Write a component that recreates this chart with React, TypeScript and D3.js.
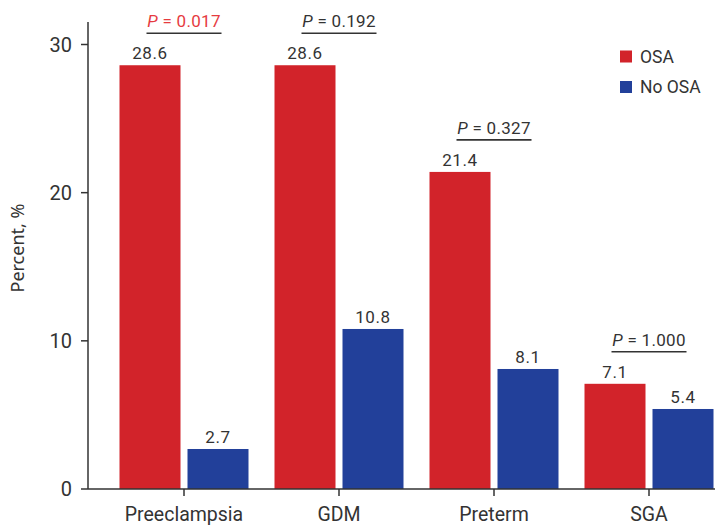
import React from "react";
import * as d3 from "d3";

// Outcome categories and percentages per group
const categories = ["Preeclampsia", "GDM", "Preterm", "SGA"];
const groups = ["OSA", "No OSA"];
const osaValues = [28.6, 28.6, 21.4, 7.1];
const noOsaValues = [2.7, 10.8, 8.1, 5.4];
const pValues = ["0.017", "0.192", "0.327", "1.000"];
const significant = [true, false, false, false];
const yTicks = [0, 10, 20, 30];

const colors = ["#D2232A", "#22409A"];
const textColor = "#333333";

const W = 715;
const H = 527;
const axisX = 88;
const baseY = 489;

export default function App() {
  const y = d3.scaleLinear().domain([0, 30]).range([baseY, 44.5]);
  const x = d3.scaleBand<string>().domain(categories).range([106.5, 726.5]).padding(0);
  const inner = d3
    .scaleBand<string>()
    .domain(groups)
    .range([13, 142])
    .paddingInner(7 / 68)
    .paddingOuter(0);

  const series = [osaValues, noOsaValues];
  const numFont = "Roboto, 'Liberation Sans', sans-serif";

  return (
    <svg
      width={W}
      height={H}
      style={{ position: "absolute", left: 0, top: 0, background: "#fff" }}
    >
      {/* bars */}
      {categories.map((c, i) =>
        groups.map((g, gi) => {
          const v = series[gi][i];
          const bx = (x(c) ?? 0) + (inner(g) ?? 0);
          return (
            <g key={c + g}>
              <rect
                x={bx}
                y={y(v)}
                width={inner.bandwidth()}
                height={baseY - y(v)}
                fill={colors[gi]}
              />
              <text
                x={bx + inner.bandwidth() / 2}
                y={y(v) - 6}
                textAnchor="middle"
                fontFamily={numFont}
                fontSize={17}
                letterSpacing={0.6}
                fill={textColor}
              >
                {v.toFixed(1)}
              </text>
            </g>
          );
        })
      )}

      {/* P-value annotations */}
      {categories.map((c, i) => {
        const cx = (x(c) ?? 0) + x.bandwidth() / 2;
        const top = y(Math.max(osaValues[i], noOsaValues[i]));
        const lineY = top - 32;
        const col = significant[i] ? "#E63B3F" : textColor;
        return (
          <g key={"p" + c}>
            <text
              x={cx}
              y={lineY - 6}
              textAnchor="middle"
              fontFamily={numFont}
              fontSize={17}
              letterSpacing={0.3}
              fill={col}
            >
              <tspan fontStyle="italic">P</tspan>
              {" = " + pValues[i]}
            </text>
            <line
              x1={cx - 37.5}
              x2={cx + 37.5}
              y1={lineY}
              y2={lineY}
              stroke={textColor}
              strokeWidth={1.6}
            />
          </g>
        );
      })}

      {/* y axis */}
      <line x1={axisX} x2={axisX} y1={22} y2={baseY} stroke={textColor} strokeWidth={1.5} />
      {yTicks.map((t) => (
        <g key={"y" + t}>
          <line x1={axisX - 7} x2={axisX} y1={y(t)} y2={y(t)} stroke={textColor} strokeWidth={1.5} />
          <text
            x={axisX - 16}
            y={y(t)}
            dy="0.36em"
            textAnchor="end"
            fontFamily={numFont}
            fontSize={20}
            fill={textColor}
          >
            {t}
          </text>
        </g>
      ))}
      <text
        transform={`translate(24,248) rotate(-90)`}
        textAnchor="middle"
        fontFamily="'Noto Sans', 'Open Sans', sans-serif"
        fontSize={18}
        fill={textColor}
      >
        Percent, %
      </text>

      {/* x axis */}
      <line x1={axisX} x2={W} y1={baseY} y2={baseY} stroke={textColor} strokeWidth={1.5} />
      {categories.map((c) => {
        const cx = (x(c) ?? 0) + x.bandwidth() / 2;
        return (
          <g key={"x" + c}>
            <line x1={cx} x2={cx} y1={baseY} y2={baseY + 7} stroke={textColor} strokeWidth={1.5} />
            <text
              x={cx}
              y={521}
              textAnchor="middle"
              fontFamily={numFont}
              fontSize={19.5}
              fill={textColor}
            >
              {c}
            </text>
          </g>
        );
      })}

      {/* legend */}
      {groups.map((g, gi) => (
        <g key={"l" + g} transform={`translate(620, ${50.5 + gi * 30.5})`}>
          <rect width={12} height={12} fill={colors[gi]} />
          <text x={20} y={12} fontFamily={numFont} fontSize={17.5} fill={textColor}>
            {g}
          </text>
        </g>
      ))}
    </svg>
  );
}
